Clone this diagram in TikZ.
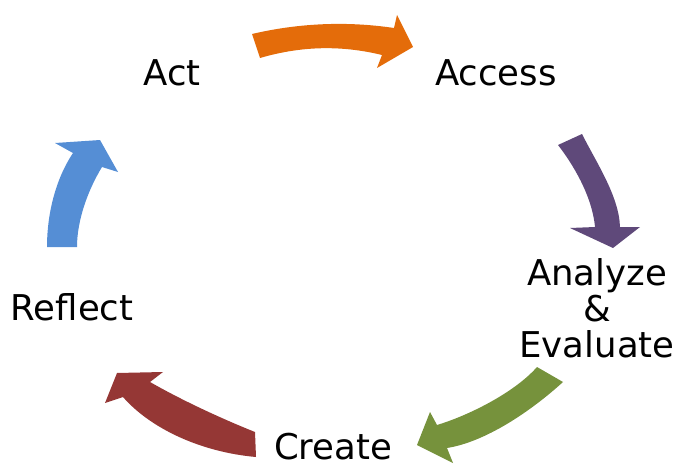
\documentclass[tikz,border=0pt]{standalone}
\usepackage{fontspec}
\setmainfont{DejaVu Sans}
\definecolor{actorange}{RGB}{228,108,10}
\definecolor{accpurple}{RGB}{95,73,122}
\definecolor{evalgreen}{RGB}{118,146,60}
\definecolor{crtred}{RGB}{149,55,53}
\definecolor{reflblue}{RGB}{85,142,213}

\begin{document}
\begin{tikzpicture}[x=1pt,y=-1pt,
  step label/.style={font=\fontsize{35.5}{36}\selectfont,inner sep=0pt,anchor=base},
  bend arrow/.style={draw=none}]
\useasboundingbox (0,0) rectangle (676,468);

\node[step label] (act)     at (172,85)  {Act};
\node[step label] (access)  at (496,86)  {Access};
\node[step label,align=center] (analyze) at (597,357) {Analyze\\\&\\Evaluate};
\node[step label] (create)  at (333,459) {Create};
\node[step label] (reflect) at (72,320)  {Reflect};

% Act -> Access
\fill[bend arrow,actorange] (252,34) .. controls (299,23) and (347,21) .. (394,28)
  -- (397,15) -- (413,47) -- (377,68) -- (382,55)
  .. controls (341,45) and (301,46) .. (260,58) -- cycle;
% Access -> Analyze
\fill[bend arrow,accpurple] (558,145) -- (582,134) .. controls (596,162) and (619,196) .. (620,227)
  -- (640,227) -- (613,248) -- (570,228) -- (595,227)
  .. controls (592,195) and (572,163) .. (558,145) -- cycle;
% Analyze -> Create
\fill[bend arrow,evalgreen] (537,367) -- (563,382) .. controls (530,412) and (485,442) .. (447,448)
  -- (453,463) -- (417,445) -- (430,412) -- (437,425)
  .. controls (470,415) and (515,392) .. (537,367) -- cycle;
% Create -> Reflect
\fill[bend arrow,crtred] (256,457) -- (255,432) .. controls (225,420) and (185,402) .. (150,382)
  -- (163,372) -- (117,373) -- (105,403) -- (123,397)
  .. controls (150,428) and (200,452) .. (256,457) -- cycle;
% Reflect -> Act
\fill[bend arrow,reflblue] (47,247) .. controls (47,215) and (55,180) .. (73,153)
  -- (55,143) -- (100,140) -- (118,172) -- (102,167)
  .. controls (88,190) and (77,220) .. (77,247) -- cycle;
\end{tikzpicture}
\end{document}
